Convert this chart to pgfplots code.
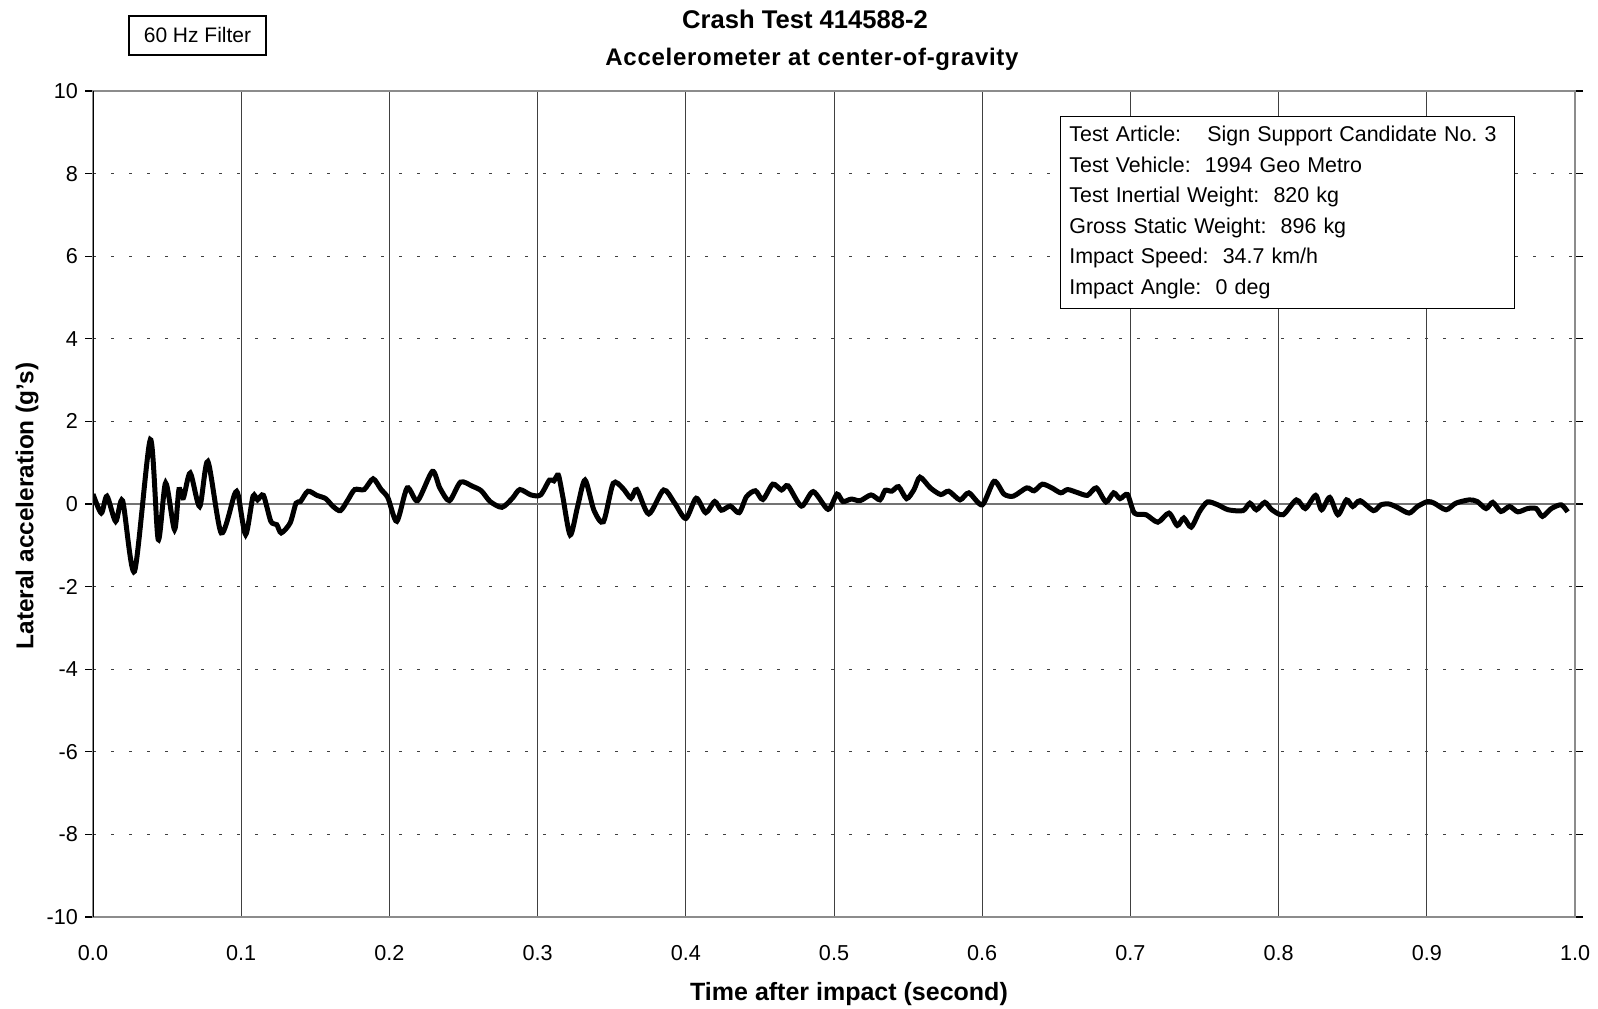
\documentclass[border=0pt]{standalone}
\usepackage{fontspec}
\setmainfont{Liberation Sans}
\usepackage{pgfplots}
\pgfplotsset{compat=1.18}
\begin{document}
\begin{tikzpicture}
\path[use as bounding box] (0,0) rectangle (799pt,504pt);
\begin{axis}[
  at={(46.5pt,45.5pt)}, anchor=south west,
  scale only axis, width=741pt, height=413pt,
  xmin=0, xmax=1, ymin=-10, ymax=10,
  xtick={0,0.1,0.2,0.3,0.4,0.5,0.6,0.7,0.8,0.9,1},
  xticklabels={0.0,0.1,0.2,0.3,0.4,0.5,0.6,0.7,0.8,0.9,1.0},
  ytick={-10,-8,-6,-4,-2,0,2,4,6,8,10},
  yticklabels={-10,-8,-6,-4,-2,0,2,4,6,8,10},
  xmajorgrids, ymajorgrids,
  x grid style={black!75, line width=0.5pt},
  y grid style={black!75, line width=0.6pt, dash pattern=on 1.5pt off 7.5pt},
  axis line style={draw=black!45, line width=0.9pt},
  tick align=outside, major tick length=4pt,
  xtick style={draw=none},
  ytick style={black, line width=0.6pt},
  ticklabel style={font=\fontsize{10.8}{12}\selectfont},
  xticklabel style={yshift=-6.5pt},
]
\draw[black!55, line width=0.6pt] (axis cs:0,0) -- (axis cs:1,0);
\addplot[black, line width=2.5pt, smooth, tension=0.45] coordinates {
(0,0.24) (0.0056,-0.22) (0.0094,0.19) (0.0153,-0.42) (0.020,0.08) (0.028,-1.63)
(0.0387,1.56) (0.044,-0.86) (0.049,0.51) (0.055,-0.62) (0.058,0.35) (0.061,0.15)
(0.0656,0.75) (0.072,-0.06) (0.0775,1.03) (0.0865,-0.70) (0.0955,0.23) (0.098,0.21)
(0.103,-0.74) (0.108,0.19) (0.111,0.10) (0.115,0.21) (0.120,-0.42) (0.124,-0.50)
(0.127,-0.70) (0.133,-0.46) (0.137,0.02) (0.140,0.06) (0.145,0.31) (0.151,0.21)
(0.157,0.13) (0.162,-0.06) (0.167,-0.16) (0.172,0.10) (0.1766,0.35) (0.183,0.35)
(0.189,0.61) (0.1944,0.35) (0.199,0.15) (0.205,-0.42) (0.212,0.39) (0.219,0.08)
(0.229,0.79) (0.234,0.39) (0.2405,0.08) (0.248,0.53) (0.256,0.43) (0.262,0.32)
(0.268,0.06) (0.276,-0.08) (0.283,0.14) (0.288,0.35) (0.2955,0.22) (0.302,0.22)
(0.308,0.58) (0.311,0.56) (0.314,0.70) (0.317,0.18) (0.322,-0.75) (0.327,-0.06)
(0.332,0.58) (0.338,-0.15) (0.3444,-0.43) (0.351,0.50) (0.3575,0.38) (0.363,0.14)
(0.367,0.35) (0.375,-0.24) (0.385,0.34) (0.3925,0.02) (0.400,-0.35) (0.407,0.14)
(0.4134,-0.21) (0.4195,0.06) (0.424,-0.15) (0.430,-0.05) (0.436,-0.21) (0.441,0.18)
(0.447,0.32) (0.452,0.11) (0.4587,0.48) (0.4646,0.34) (0.469,0.44) (0.478,-0.05)
(0.486,0.30) (0.496,-0.13) (0.502,0.24) (0.506,0.06) (0.5117,0.12) (0.5176,0.08)
(0.525,0.22) (0.531,0.10) (0.5345,0.33) (0.539,0.31) (0.5436,0.42) (0.549,0.13)
(0.554,0.35) (0.558,0.65) (0.565,0.39) (0.572,0.23) (0.5774,0.31) (0.585,0.10)
(0.591,0.27) (0.600,-0.02) (0.608,0.55) (0.6147,0.24) (0.621,0.19) (0.630,0.39)
(0.635,0.32) (0.6406,0.48) (0.647,0.39) (0.653,0.27) (0.6576,0.35) (0.664,0.28)
(0.671,0.21) (0.677,0.39) (0.6835,0.05) (0.6887,0.27) (0.693,0.13) (0.698,0.23)
(0.7027,-0.22) (0.7106,-0.26) (0.7185,-0.44) (0.726,-0.22) (0.7316,-0.52) (0.736,-0.34)
(0.741,-0.56) (0.7467,-0.18) (0.752,0.05) (0.759,-0.02) (0.766,-0.14) (0.776,-0.16)
(0.7806,0.02) (0.785,-0.14) (0.7907,0.04) (0.7955,-0.14) (0.803,-0.26) (0.812,0.10)
(0.818,-0.11) (0.825,0.21) (0.829,-0.14) (0.8345,0.16) (0.840,-0.26) (0.8458,0.10)
(0.850,-0.06) (0.855,0.08) (0.864,-0.16) (0.869,-0.02) (0.8745,0) (0.880,-0.08)
(0.888,-0.22) (0.8937,-0.06) (0.9005,0.06) (0.905,0.02) (0.913,-0.14) (0.9196,0.02)
(0.9287,0.10) (0.934,0.06) (0.940,-0.11) (0.9445,0.04) (0.950,-0.18) (0.9558,-0.06)
(0.9614,-0.19) (0.968,-0.11) (0.9738,-0.11) (0.978,-0.30) (0.984,-0.11) (0.9907,-0.02)
(0.995,-0.19)
};
\draw[black, line width=1pt] (rel axis cs:0,0) -- (rel axis cs:0,1);
\node[anchor=north west, draw=black, line width=0.7pt, fill=white, align=left,
  text width=218pt, minimum height=96pt, inner xsep=4.5pt, inner ysep=0pt,
  font=\fontsize{10.7}{15.3}\selectfont]
  at (rel axis cs:0.6523,0.97) {%
  \makebox[69pt][l]{Test Article:}Sign Support Candidate No.~3\\
  Test Vehicle:\ \ 1994 Geo Metro\\
  Test Inertial Weight:\ \ 820 kg\\
  Gross Static Weight:\ \ 896 kg\\
  Impact Speed:\ \ 34.7 km/h\\
  Impact Angle:\ \ 0 deg};
\end{axis}
\node[draw=black, line width=0.7pt, minimum width=68.5pt, minimum height=19.5pt, inner sep=0pt,
  font=\fontsize{10.5}{12}\selectfont] at (98.75pt,486.25pt) {60 Hz Filter};
\node[anchor=base, font=\bfseries\fontsize{12.8}{14}\selectfont] at (402.5pt,489.75pt) {Crash Test 414588-2};
\node[anchor=base, font=\bfseries\fontsize{12}{14}\selectfont\addfontfeature{LetterSpace=3}] at (406pt,471.25pt) {Accelerometer at center-of-gravity};
\node[anchor=base, font=\bfseries\fontsize{12.5}{14}\selectfont] at (424.5pt,4pt) {Time after impact (second)};
\node[rotate=90, font=\bfseries\fontsize{12.2}{14}\selectfont] at (13.5pt,251pt) {Lateral acceleration (g's)};
\end{tikzpicture}
\end{document}
